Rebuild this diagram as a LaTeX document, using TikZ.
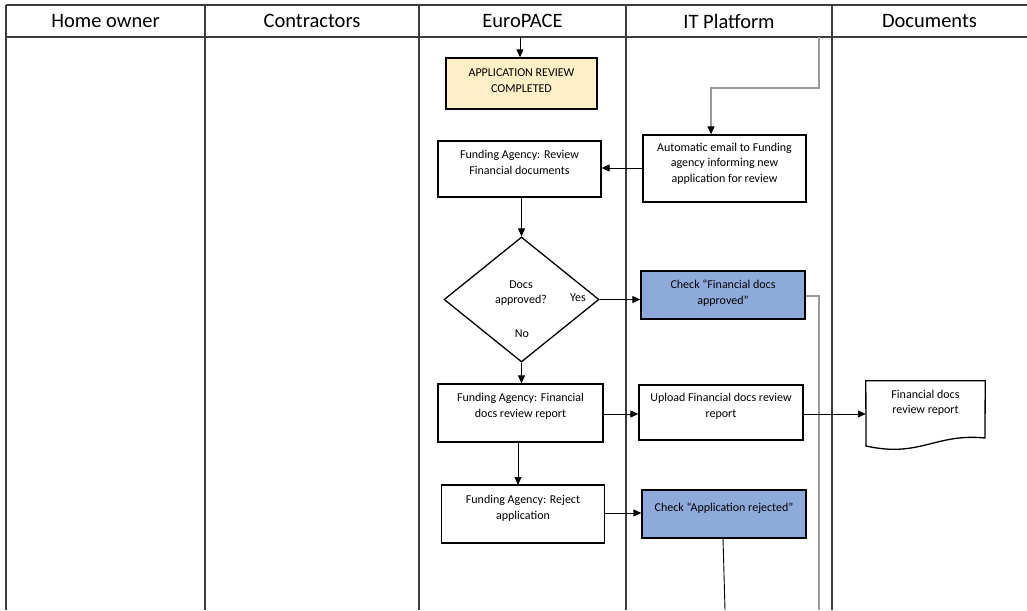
\documentclass[tikz,border=0pt]{standalone}
\usepackage{fontspec}
\setmainfont{Carlito}
\usetikzlibrary{arrows.meta,shapes.geometric,calc}
\definecolor{lanegray}{HTML}{3C3C3C}
\definecolor{linkgray}{HTML}{9A9A9A}
\definecolor{appfill}{HTML}{FFEFC6}
\definecolor{checkfill}{HTML}{8EAADB}
\begin{document}
\begin{tikzpicture}[x=1pt,y=-1pt,
  lane/.style={draw=lanegray, line width=1.3pt},
  head/.style={font=\fontsize{20.5}{24}\selectfont, inner sep=0},
  txt/.style={font=\fontsize{12}{15.5}\selectfont, align=center, inner sep=0},
  procbox/.style={draw=black, line width=1.3pt, fill=white, inner sep=0},
  appbox/.style={procbox, fill=appfill},
  checkbox/.style={procbox, fill=checkfill},
  decision/.style={diamond, draw=black, line width=1.3pt, inner sep=0},
  flow/.style={draw=black, line width=0.9pt, -{Triangle[length=8pt,width=7pt]}},
  plain/.style={draw=black, line width=0.9pt},
  graylink/.style={draw=linkgray, line width=1.3pt},
]
% canvas
\useasboundingbox (0,0) rectangle (1027,610);
\fill[white] (0,0) rectangle (1027,610);

% swimlane grid
\draw[lane] (6,5) -- (1027,5);
\draw[lane] (6,37) -- (1027,37);
\foreach \lx in {6,205,419,626,832}
  \draw[lane] (\lx,5) -- (\lx,610);

% lane headings
\node[head] (hHome) at (105.5,21) {Home owner};
\node[head] (hCon)  at (312,21) {Contractors};
\node[head] (hEuro) at (522.5,21) {EuroPACE};
\node[head] (hIT)   at (729,21) {IT Platform};
\node[head] (hDoc)  at (929.5,21) {Documents};

% process boxes
\node[appbox, minimum width=151pt, minimum height=51pt] (app) at (521.5,83.5) {};
\node[txt] (appT) at (521.5,80.5) {APPLICATION REVIEW\\COMPLETED};

\node[procbox, minimum width=163pt, minimum height=67pt] (auto) at (724.5,168.5) {};
\node[txt] (autoT) at (724.5,163.5) {Automatic email to Funding\\agency informing new\\application for review};

\node[procbox, minimum width=163pt, minimum height=56pt] (review) at (519.5,169) {};
\node[txt] (reviewT) at (519.5,162.5) {Funding Agency: Review\\Financial documents};

\node[decision, minimum width=155pt, minimum height=125pt] (dec) at (521.5,299.5) {};
\node[txt] (decT) at (521,293) {Docs\\approved?};
\node[txt] (yesT) at (578,298) {Yes};
\node[txt] (noT) at (522,334) {No};

\node[checkbox, minimum width=164pt, minimum height=48pt] (check1) at (723,295) {};
\node[txt] (check1T) at (723,293) {Check “Financial docs\\approved”};

\node[procbox, minimum width=165pt, minimum height=58pt] (fin) at (520.5,413) {};
\node[txt] (finT) at (520.5,406.5) {Funding Agency: Financial\\docs review report};

\node[procbox, minimum width=164pt, minimum height=55pt] (upload) at (721,412.5) {};
\node[txt] (uploadT) at (721,406.5) {Upload Financial docs review\\report};

% document symbol
\node[inner sep=0, minimum width=119pt, minimum height=66pt] (doc) at (925.5,414) {};
\draw[black, line width=1.3pt, fill=white]
  (doc.north west) -- (doc.north east) -- (985,438)
  .. controls (935,433) and (920,458) .. (866,446) -- cycle;
\node[txt] (docT) at (925.5,403) {Financial docs\\review report};

\node[procbox, minimum width=163pt, minimum height=58pt] (reject) at (523,514) {};
\node[txt] (rejectT) at (523,508.5) {Funding Agency: Reject\\application};

\node[checkbox, minimum width=164pt, minimum height=48pt] (check2) at (724,514) {};
\node[txt] (check2T) at (724,508) {Check “Application rejected”};

% free ends of connectors
\coordinate (inTop) at (520,37);
\coordinate (itTop) at (819,37);
\coordinate (itBend1) at (819,88);
\coordinate (itBend2) at (711,88);
\coordinate (sideBend) at (819,296);
\coordinate (sideEnd) at (819,610);
\coordinate (rejEnd) at (725,610);

% connectors
\draw[flow] (inTop) -- (inTop |- app.north);
\draw[graylink] (itTop) -- (itBend1) -- (itBend2) -- ($(itBend2 |- auto.north)+(0,-6)$);
\draw[flow] ($(itBend2 |- auto.north)+(0,-3)$) -- (itBend2 |- auto.north);
\draw[flow] (auto.west |- 0,168) -- (review.east |- 0,168);
\draw[flow] (review.south -| dec.north) -- (dec.north);
\draw[flow] (dec.east) -- (dec.east -| check1.west);
\draw[graylink] (check1.east |- sideBend) -- (sideBend) -- (sideEnd);
\draw[flow] (dec.south) -- (dec.south |- fin.north);
\draw[flow] (fin.east |- 0,414) -- (upload.west |- 0,414);
\draw[flow] (upload.east |- 0,414) -- (doc.west);
\draw[flow] (518,442) -- (518,485);
\draw[flow] (reject.east |- 0,513) -- (check2.west |- 0,513);
\draw[plain] (723,538) -- (rejEnd);
\end{tikzpicture}
\end{document}
